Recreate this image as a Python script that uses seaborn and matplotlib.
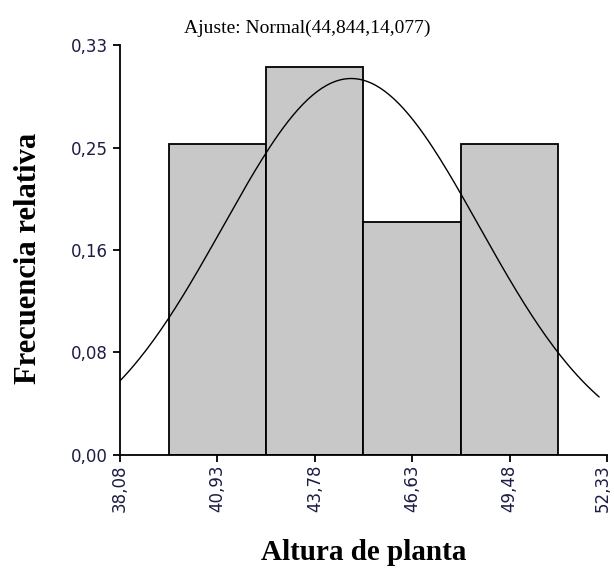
import numpy as np
import pandas as pd
import matplotlib
matplotlib.use("Agg")
import matplotlib.pyplot as plt
import matplotlib.transforms as mtransforms
import seaborn as sns

# class marks and relative frequencies (n = 16)
bin_centers = [40.93, 43.78, 46.63, 49.48]
rel_freq = [0.25, 0.3125, 0.1875, 0.25]
bin_width = 2.85

x_ticks = [38.08, 40.93, 43.78, 46.63, 49.48, 52.33]
x_labels = ["38,08", "40,93", "43,78", "46,63", "49,48", "52,33"]
y_ticks = [0.0, 0.0825, 0.165, 0.2475, 0.33]
y_labels = ["0,00", "0,08", "0,16", "0,25", "0,33"]

mu = 44.844
var = 14.077

sns.set_style("ticks")
plt.rcParams["font.family"] = ["DejaVu Sans"]

fig = plt.figure(figsize=(6.14, 5.7), dpi=100)
ax = fig.add_axes([0.1954, 0.2018, 0.7932, 0.7192])

edges = [bin_centers[0] - bin_width / 2 + i * bin_width for i in range(len(bin_centers) + 1)]
df = pd.DataFrame({"x": bin_centers, "w": rel_freq})
sns.histplot(data=df, x="x", weights="w", bins=edges, stat="count",
             color="#c8c8c8", edgecolor="black", linewidth=1.3, alpha=1, ax=ax)

# fitted normal scaled to relative frequency per class
xs = np.linspace(38.08, 52.1, 200)
sd = np.sqrt(var)
ys = np.exp(-0.5 * ((xs - mu) / sd) ** 2) / (sd * np.sqrt(2 * np.pi)) * bin_width
sns.lineplot(x=xs, y=ys, color="black", linewidth=1.0, ax=ax)

ax.set_xlim(38.08, 52.33)
ax.set_ylim(0, 0.33)
ax.set_xticks(x_ticks)
ax.set_xticklabels(x_labels, rotation=90, fontsize=12, color="#1c1c44")
ax.set_yticks(y_ticks)
ax.set_yticklabels(y_labels, fontsize=12, color="#1c1c44")
ax.tick_params(direction="out", length=5, width=1.3, color="black")
ax.tick_params(axis="x", pad=2)
# last label sits right at the edge, nudge it in a bit
last = ax.get_xticklabels()[-1]
last.set_transform(last.get_transform() + mtransforms.ScaledTranslation(-3 / 72, 0, fig.dpi_scale_trans))
for s in ["left", "bottom"]:
    ax.spines[s].set_linewidth(1.3)
    ax.spines[s].set_color("black")
sns.despine(ax=ax)

fig.text(0.5, 0.951, "Ajuste: Normal(44,844,14,077)", fontsize=14, color="black",
         family="Liberation Serif", ha="center", va="center")
ax.set_xlabel("Altura de planta", fontsize=21, fontweight="bold", color="black",
              family="Liberation Serif", labelpad=19)
ax.set_ylabel("Frecuencia relativa", fontsize=22, fontweight="bold", color="black",
              family="Liberation Serif", labelpad=20)
ax.yaxis.label.set_y(0.48)

fig.savefig("out.png", dpi=100)
